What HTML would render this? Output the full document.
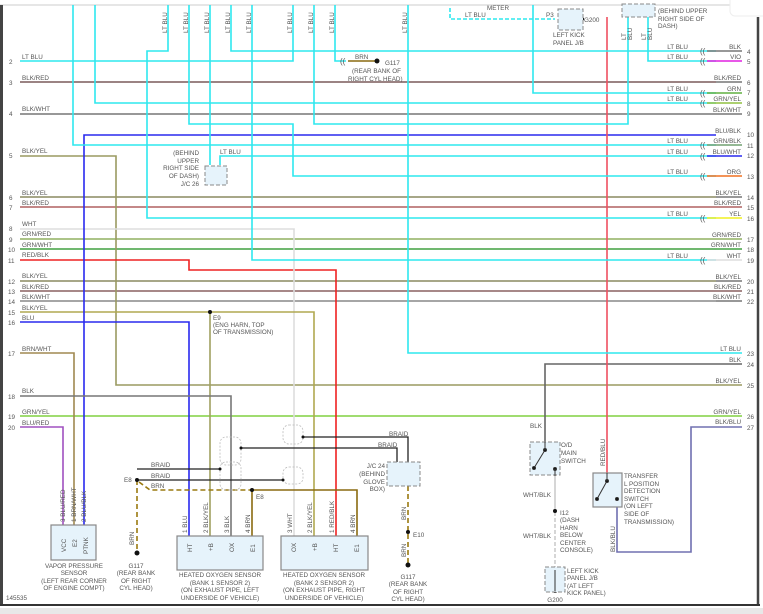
<!DOCTYPE html>
<html><head><meta charset="utf-8"><style>
html,body{margin:0;padding:0;background:#fff;}
svg{display:block;font-family:"Liberation Sans",sans-serif;}
text{font-size:6.3px;fill:#555;}
</style></head><body>
<svg width="763" height="614" viewBox="0 0 763 614" xmlns="http://www.w3.org/2000/svg">
<rect x="0" y="0" width="763" height="614" fill="#fff"/>
<!-- frame -->
<line x1="0" y1="5" x2="735" y2="5" stroke="#ddd" stroke-width="1.5"/>
<line x1="1.5" y1="5" x2="1.5" y2="606" stroke="#444" stroke-width="3"/>
<line x1="758" y1="17" x2="758" y2="606" stroke="#444" stroke-width="2.5"/>
<line x1="0" y1="605" x2="760" y2="605" stroke="#333" stroke-width="2"/>
<rect x="0" y="608" width="763" height="6" fill="#e8e8e8"/>
<rect x="730" y="-6" width="40" height="22" rx="5" fill="#fff" stroke="#eee"/>

<g fill="none" stroke-width="1.6">
<!-- straight through wires -->
<line x1="20" y1="82" x2="716" y2="82" stroke="#7a5a5a"/>
<line x1="20" y1="114" x2="716" y2="114" stroke="#777"/>
<line x1="20" y1="197" x2="716" y2="197" stroke="#8a8a60"/>
<line x1="20" y1="207" x2="716" y2="207" stroke="#b06060"/>
<line x1="20" y1="239" x2="716" y2="239" stroke="#90b060"/>
<line x1="20" y1="249" x2="716" y2="249" stroke="#40a040"/>
<line x1="20" y1="281" x2="716" y2="281" stroke="#8a8a60"/>
<line x1="20" y1="291" x2="716" y2="291" stroke="#8a6060"/>
<line x1="20" y1="301" x2="716" y2="301" stroke="#888"/>
<line x1="20" y1="416" x2="716" y2="416" stroke="#80d040"/>
<!-- row 5 -> 25 -->
<polyline points="20,156 116,156 116,385 716,385" stroke="#9a9a60"/>
<!-- RED/BLK -->
<polyline points="20,260 189,260 189,270 336,270 336,536" stroke="#ee2222"/>
<!-- WHT -->
<polyline points="20,229 294,229 294,536" stroke="#ddd"/>
<!-- BLK/YEL 15 -->
<polyline points="20,312 314,312 314,536" stroke="#b0a850"/>
<line x1="210" y1="312" x2="210" y2="536" stroke="#a0a060"/>
<!-- BLU 16 -->
<polyline points="20,322 189,322 189,536" stroke="#2a2aee"/>
<!-- BLU/BLK 10 -->
<polyline points="716,135 84,135 84,525" stroke="#2a2aee"/>
<!-- BRN/WHT -->
<polyline points="20,353 74,353 74,525" stroke="#a08850"/>
<!-- BLK 18 -->
<polyline points="20,396 231,396 231,536" stroke="#777"/>
<!-- BLU/RED -->
<polyline points="20,427 63,427 63,525" stroke="#a050c0"/>
<!-- BLK 24 -->
<polyline points="716,364 545,364 545,442" stroke="#666"/>
<!-- BLK/BLU 27 -->
<polyline points="716,427 691,427 691,552 617,552 617,507" stroke="#7070b0"/>
<!-- RED/BLU -->
<line x1="607" y1="17" x2="607" y2="473" stroke="#ee5060"/>
<!-- WHT/BLK -->
<line x1="555" y1="476" x2="555" y2="512" stroke="#ccc"/>
<line x1="555" y1="512" x2="555" y2="568" stroke="#ccc" stroke-dasharray="4,2"/>

<!-- cyan -->
<g stroke="#2ee8ee">
<polyline points="73,5 73,145 716,145"/>
<polyline points="95,5 95,103 716,103"/>
<polyline points="168,5 168,51 147,51 147,218 716,218"/>
<polyline points="189,5 189,124 293,124 293,176 716,176"/>
<polyline points="210,5 210,165"/>
<polyline points="220,165 220,156 716,156"/>
<polyline points="231,5 231,51 716,51"/>
<polyline points="252,5 252,260 716,260"/>
<polyline points="293,5 293,61 20,61"/>
<polyline points="314,5 314,124 628,124 628,17"/>
<polyline points="335,5 335,61 346,61"/>
<polyline points="408,5 408,353 716,353"/>
<polyline points="533,5 533,93 716,93"/>
<polyline points="648,17 648,61 716,61"/>
<polyline points="450,8 450,19 555,19" stroke-dasharray="4,2"/>
</g>
<!-- right side colored stubs -->
<line x1="328" y1="61" x2="328" y2="61"/>
<line x1="707" y1="51" x2="742" y2="51" stroke="#777"/>
<line x1="707" y1="61" x2="742" y2="61" stroke="#e020e0"/>
<line x1="707" y1="93" x2="742" y2="93" stroke="#60b040"/>
<line x1="707" y1="103" x2="742" y2="103" stroke="#90c040"/>
<line x1="707" y1="145" x2="742" y2="145" stroke="#70a070"/>
<line x1="707" y1="156" x2="742" y2="156" stroke="#2a2aee"/>
<line x1="707" y1="176" x2="742" y2="176" stroke="#f07020"/>
<line x1="707" y1="218" x2="742" y2="218" stroke="#f0f020"/>
<line x1="707" y1="260" x2="742" y2="260" stroke="#ddd"/>
<g stroke="#777">
<line x1="716" y1="82" x2="742" y2="82"/><line x1="716" y1="114" x2="742" y2="114"/>
<line x1="716" y1="197" x2="742" y2="197"/><line x1="716" y1="207" x2="742" y2="207" stroke="#b06060"/>
<line x1="716" y1="239" x2="742" y2="239" stroke="#90b060"/><line x1="716" y1="249" x2="742" y2="249" stroke="#40a040"/>
<line x1="716" y1="281" x2="742" y2="281"/><line x1="716" y1="291" x2="742" y2="291" stroke="#8a6060"/>
<line x1="716" y1="301" x2="742" y2="301"/><line x1="716" y1="353" x2="742" y2="353" stroke="#2ee8ee"/>
<line x1="716" y1="364" x2="742" y2="364" stroke="#666"/><line x1="716" y1="385" x2="742" y2="385" stroke="#9a9a60"/>
<line x1="716" y1="416" x2="742" y2="416" stroke="#80d040"/><line x1="716" y1="427" x2="742" y2="427" stroke="#7070b0"/>
</g>

<!-- BRN grounds -->
<line x1="348" y1="61" x2="376" y2="61" stroke="#8a6a10"/>
<polyline points="137,480 137,553" stroke="#9a7a10" stroke-dasharray="5,3"/>
<polyline points="139,482 150,490 252,490" stroke="#9a7a10" stroke-dasharray="5,3"/>
<polyline points="252,536 252,490 357,490 357,536" stroke="#8a6a10"/>
<polyline points="408,486 408,565" stroke="#9a7a10" stroke-dasharray="5,3"/>
<!-- braids -->
<g stroke="#222" stroke-width="1.3">
<polyline points="137,469 220,469"/>
<polyline points="137,480 283,480"/>
<polyline points="303,437 408,437 408,462"/>
<polyline points="241,448 397,448 397,462"/>
<polyline points="397,470 397,478 408,478"/>
</g>
<g stroke="#bbb" stroke-width="0.8" stroke-dasharray="2,1.5">
<rect x="220" y="437" width="21" height="28" rx="6"/>
<rect x="220" y="462" width="21" height="28" rx="6"/>
<rect x="283" y="425" width="20" height="19" rx="6"/>
<rect x="283" y="467" width="20" height="17" rx="6"/>
</g>
</g>

<!-- dots -->
<g fill="#111">
<circle cx="137" cy="480" r="2"/><circle cx="252" cy="490" r="2"/><circle cx="210" cy="312" r="2"/>
<circle cx="241" cy="448" r="1.5"/><circle cx="303" cy="437" r="1.5"/><circle cx="220" cy="469" r="1.5"/><circle cx="283" cy="480" r="1.5"/>
<circle cx="408" cy="532" r="2"/><circle cx="555" cy="511" r="2"/><circle cx="377" cy="61" r="2.5"/>
<circle cx="137" cy="553" r="2.5"/><circle cx="408" cy="565" r="2.5"/><circle cx="555" cy="591" r="2"/><circle cx="582" cy="19" r="2"/>
</g>

<!-- boxes -->
<g stroke="#888" stroke-width="1.2" fill="#e6f3fb">
<rect x="51" y="525" width="45" height="35"/>
<rect x="177" y="536" width="86" height="34"/>
<rect x="281" y="536" width="87" height="34"/>
<rect x="593" y="473" width="29" height="34"/>
</g>
<g stroke="#888" stroke-width="1" fill="#e6f3fb" stroke-dasharray="4,2">
<rect x="387" y="462" width="33" height="24"/>
<rect x="530" y="442" width="30" height="33"/>
<rect x="545" y="567" width="20" height="25"/>
<rect x="205" y="166" width="22" height="19"/>
<rect x="558" y="9" width="25" height="21"/>
<rect x="622" y="4" width="33" height="13"/>
</g>
<!-- switch levers -->
<g stroke="#333" stroke-width="1" fill="#111">
<line x1="534" y1="468" x2="545" y2="450"/><circle cx="534" cy="468" r="1.5"/><circle cx="545" cy="450" r="1.5"/>
<line x1="545" y1="442" x2="545" y2="450"/><circle cx="555" cy="469" r="1.5"/><line x1="555" y1="469" x2="555" y2="476"/>
<line x1="597" y1="499" x2="607" y2="481"/><circle cx="597" cy="499" r="1.5"/><circle cx="607" cy="481" r="1.5"/>
<line x1="607" y1="473" x2="607" y2="481"/><circle cx="617" cy="499" r="1.5"/>
<line x1="555" y1="570" x2="555" y2="591"/>
</g>

<!-- left labels -->
<g>
<text x="22" y="59">LT BLU</text><text x="22" y="80">BLK/RED</text><text x="22" y="111">BLK/WHT</text>
<text x="22" y="153">BLK/YEL</text><text x="22" y="195">BLK/YEL</text><text x="22" y="205">BLK/RED</text>
<text x="22" y="226">WHT</text><text x="22" y="236">GRN/RED</text><text x="22" y="247">GRN/WHT</text>
<text x="22" y="257">RED/BLK</text><text x="22" y="278">BLK/YEL</text><text x="22" y="289">BLK/RED</text>
<text x="22" y="299">BLK/WHT</text><text x="22" y="310">BLK/YEL</text><text x="22" y="320">BLU</text>
<text x="22" y="351">BRN/WHT</text><text x="22" y="393">BLK</text><text x="22" y="414">GRN/YEL</text><text x="22" y="425">BLU/RED</text>
</g>
<g>
<text x="9" y="64">2</text><text x="9" y="85">3</text><text x="9" y="116">4</text><text x="9" y="158">5</text>
<text x="9" y="200">6</text><text x="9" y="210">7</text><text x="9" y="231">8</text><text x="9" y="242">9</text>
<text x="8" y="252">10</text><text x="8" y="263">11</text><text x="8" y="284">12</text><text x="8" y="294">13</text>
<text x="8" y="304">14</text><text x="8" y="315">15</text><text x="8" y="325">16</text><text x="8" y="356">17</text>
<text x="8" y="399">18</text><text x="8" y="419">19</text><text x="8" y="430">20</text>
</g>
<!-- right labels -->
<g text-anchor="end">
<text x="741" y="49">BLK</text><text x="741" y="59">VIO</text><text x="741" y="80">BLK/RED</text>
<text x="741" y="91">GRN</text><text x="741" y="101">GRN/YEL</text><text x="741" y="112">BLK/WHT</text>
<text x="741" y="133">BLU/BLK</text><text x="741" y="143">GRN/BLK</text><text x="741" y="154">BLU/WHT</text>
<text x="741" y="174">ORG</text><text x="741" y="195">BLK/YEL</text><text x="741" y="205">BLK/RED</text>
<text x="741" y="216">YEL</text><text x="741" y="237">GRN/RED</text><text x="741" y="247">GRN/WHT</text>
<text x="741" y="258">WHT</text><text x="741" y="279">BLK/YEL</text><text x="741" y="289">BLK/RED</text>
<text x="741" y="299">BLK/WHT</text><text x="741" y="351">LT BLU</text><text x="741" y="362">BLK</text>
<text x="741" y="383">BLK/YEL</text><text x="741" y="414">GRN/YEL</text><text x="741" y="424">BLK/BLU</text>
<text x="688" y="49">LT BLU</text><text x="688" y="59">LT BLU</text><text x="688" y="91">LT BLU</text>
<text x="688" y="101">LT BLU</text><text x="688" y="143">LT BLU</text><text x="688" y="154">LT BLU</text>
<text x="688" y="174">LT BLU</text><text x="688" y="216">LT BLU</text><text x="688" y="258">LT BLU</text>
</g>
<g>
<text x="747" y="54">4</text><text x="747" y="64">5</text><text x="747" y="85">6</text><text x="747" y="95">7</text>
<text x="747" y="106">8</text><text x="747" y="116">9</text><text x="747" y="137">10</text><text x="747" y="148">11</text>
<text x="747" y="158">12</text><text x="747" y="179">13</text><text x="747" y="200">14</text><text x="747" y="210">15</text>
<text x="747" y="221">16</text><text x="747" y="242">17</text><text x="747" y="252">18</text><text x="747" y="263">19</text>
<text x="747" y="284">20</text><text x="747" y="294">21</text><text x="747" y="304">22</text><text x="747" y="356">23</text>
<text x="747" y="367">24</text><text x="747" y="388">25</text><text x="747" y="419">26</text><text x="747" y="430">27</text>
</g>
<g fill="#555" font-size="8"><text x="700" y="54" style="font-size:8px">((</text><text x="700" y="64" style="font-size:8px">((</text>
<text x="700" y="96" style="font-size:8px">((</text><text x="700" y="106" style="font-size:8px">((</text><text x="700" y="148" style="font-size:8px">((</text>
<text x="700" y="159" style="font-size:8px">((</text><text x="700" y="179" style="font-size:8px">((</text><text x="700" y="221" style="font-size:8px">((</text>
<text x="700" y="263" style="font-size:8px">((</text><text x="340" y="64" style="font-size:8px">((</text></g>

<!-- top vertical labels -->
<g>
<text transform="translate(167,33) rotate(-90)">LT BLU</text><text transform="translate(188,33) rotate(-90)">LT BLU</text>
<text transform="translate(209,33) rotate(-90)">LT BLU</text><text transform="translate(230,33) rotate(-90)">LT BLU</text>
<text transform="translate(251,33) rotate(-90)">LT BLU</text><text transform="translate(292,33) rotate(-90)">LT BLU</text>
<text transform="translate(313,33) rotate(-90)">LT BLU</text><text transform="translate(334,33) rotate(-90)">LT BLU</text>
<text transform="translate(407,33) rotate(-90)">LT BLU</text>
<text transform="translate(626,40) rotate(-90)">LT</text><text transform="translate(632,40) rotate(-90)">BLU</text>
<text transform="translate(646,40) rotate(-90)">LT</text><text transform="translate(652,40) rotate(-90)">BLU</text>
</g>
<text x="487" y="10">METER</text><text x="465" y="17">LT BLU</text><text x="546" y="17">P3</text><text x="584" y="22">G200</text>
<text x="553" y="37">LEFT KICK</text><text x="553" y="45">PANEL J/B</text>
<text x="658" y="13">(BEHIND UPPER</text><text x="658" y="21">RIGHT SIDE OF</text><text x="658" y="28">DASH)</text>
<text x="355" y="59">BRN</text><text x="385" y="65">G117</text>
<text x="352" y="73">(REAR BANK OF</text><text x="348" y="81">RIGHT CYL HEAD)</text>
<g text-anchor="end"><text x="199" y="155">(BEHIND</text><text x="199" y="163">UPPER</text><text x="199" y="170">RIGHT SIDE</text><text x="199" y="178">OF DASH)</text><text x="199" y="186">J/C 26</text></g>
<text x="220" y="154">LT BLU</text>
<text x="213" y="320">E9</text><text x="213" y="327">(ENG HARN, TOP</text><text x="213" y="334">OF TRANSMISSION)</text>
<text x="151" y="467">BRAID</text><text x="151" y="478">BRAID</text><text x="151" y="488">BRN</text>
<text x="124" y="482">E8</text><text x="256" y="499">E8</text>
<text x="389" y="436">BRAID</text><text x="378" y="447">BRAID</text>
<g text-anchor="end"><text x="385" y="468">J/C 24</text><text x="385" y="476">(BEHIND</text><text x="385" y="484">GLOVE</text><text x="385" y="491">BOX)</text></g>
<text x="413" y="537">E10</text>
<g text-anchor="middle">
<text x="74" y="568">VAPOR PRESSURE</text><text x="74" y="575">SENSOR</text><text x="74" y="583">(LEFT REAR CORNER</text><text x="74" y="590">OF ENGINE COMPT)</text>
<text x="136" y="568">G117</text><text x="136" y="575">(REAR BANK</text><text x="136" y="583">OF RIGHT</text><text x="136" y="590">CYL HEAD)</text>
<text x="220" y="577">HEATED OXYGEN SENSOR</text><text x="220" y="585">(BANK 1 SENSOR 2)</text><text x="220" y="592">(ON EXHAUST PIPE, LEFT</text><text x="220" y="600">UNDERSIDE OF VEHICLE)</text>
<text x="324" y="577">HEATED OXYGEN SENSOR</text><text x="324" y="585">(BANK 2 SENSOR 2)</text><text x="324" y="592">(ON EXHAUST PIPE, RIGHT</text><text x="324" y="600">UNDERSIDE OF VEHICLE)</text>
<text x="408" y="579">G117</text><text x="408" y="586">(REAR BANK</text><text x="408" y="594">OF RIGHT</text><text x="408" y="601">CYL HEAD)</text>
<text x="555" y="602">G200</text>
</g>
<text x="6" y="600">145535</text>
<!-- pin labels rotated -->
<g>
<text transform="translate(65,522) rotate(-90)">3 BLU/RED</text><text transform="translate(76,522) rotate(-90)">1 BRN/WHT</text><text transform="translate(86,522) rotate(-90)">2 BLU/BLK</text>
<text transform="translate(66,552) rotate(-90)">VCC</text><text transform="translate(77,547) rotate(-90)">E2</text><text transform="translate(88,554) rotate(-90)">PTNK</text>
<text transform="translate(187,533) rotate(-90)">1 BLU</text><text transform="translate(208,533) rotate(-90)">2 BLK/YEL</text><text transform="translate(229,533) rotate(-90)">3 BLK</text><text transform="translate(250,533) rotate(-90)">4 BRN</text>
<text transform="translate(292,533) rotate(-90)">3 WHT</text><text transform="translate(312,533) rotate(-90)">2 BLK/YEL</text><text transform="translate(334,533) rotate(-90)">1 RED/BLK</text><text transform="translate(355,533) rotate(-90)">4 BRN</text>
<text transform="translate(192,552) rotate(-90)">HT</text><text transform="translate(213,551) rotate(-90)">+B</text><text transform="translate(234,552) rotate(-90)">OX</text><text transform="translate(255,552) rotate(-90)">E1</text>
<text transform="translate(296,552) rotate(-90)">OX</text><text transform="translate(317,551) rotate(-90)">+B</text><text transform="translate(338,552) rotate(-90)">HT</text><text transform="translate(359,552) rotate(-90)">E1</text>
<text transform="translate(134,545) rotate(-90)">BRN</text><text transform="translate(406,520) rotate(-90)">BRN</text><text transform="translate(406,557) rotate(-90)">BRN</text>
<text transform="translate(605,466) rotate(-90)">RED/BLU</text><text transform="translate(615,552) rotate(-90)">BLK/BLU</text>
</g>
<text x="530" y="428">BLK</text><text x="561" y="447">O/D</text><text x="561" y="455">MAIN</text><text x="561" y="463">SWITCH</text>
<text x="523" y="497">WHT/BLK</text><text x="523" y="538">WHT/BLK</text>
<text x="560" y="515">I12</text><text x="560" y="522">(DASH</text><text x="560" y="530">HARN</text><text x="560" y="537">BELOW</text><text x="560" y="545">CENTER</text><text x="560" y="552">CONSOLE)</text>
<text x="567" y="573">LEFT KICK</text><text x="567" y="580">PANEL J/B</text><text x="567" y="588">(AT LEFT</text><text x="567" y="595">KICK PANEL)</text>
<text x="624" y="478">TRANSFER</text><text x="624" y="486">L POSITION</text><text x="624" y="493">DETECTION</text><text x="624" y="501">SWITCH</text><text x="624" y="508">(ON LEFT</text><text x="624" y="516">SIDE OF</text><text x="624" y="524">TRANSMISSION)</text>
</svg>
</body></html>
